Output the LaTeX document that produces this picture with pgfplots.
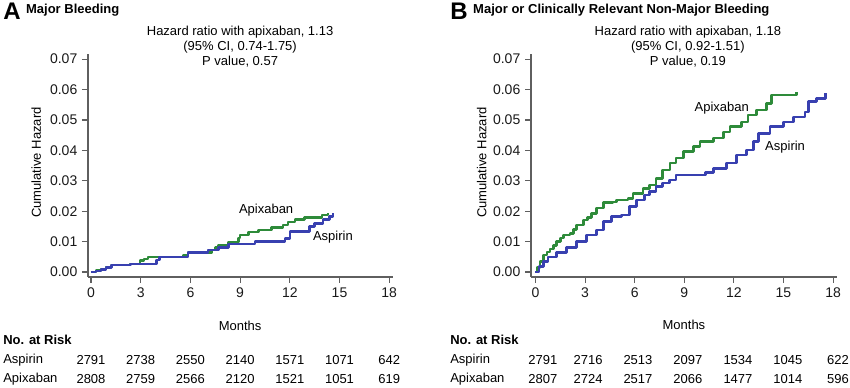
\documentclass[border=0pt]{standalone}
\usepackage{pgfplots}
\pgfplotsset{compat=1.18}
\usepackage{fontspec}
\setmainfont{Liberation Sans}
\definecolor{apx}{RGB}{46,139,58}
\definecolor{asp}{RGB}{56,64,176}
\definecolor{axgray}{RGB}{95,95,95}
\newcommand{\tf}{\fontsize{9.75}{11}\selectfont}
\pgfplotsset{kmstyle/.style={
  scale only axis, height=167.25pt,
  axis lines*=left, axis line style={axgray, line width=0.8pt},
  tick style={axgray, line width=0.8pt}, tick align=outside, major tick length=4.5pt,
  ymin=-0.00164, ymax=0.0717,
  ytick={0,0.01,0.02,0.03,0.04,0.05,0.06,0.07},
  scaled y ticks=false,
  yticklabel style={/pgf/number format/.cd, fixed, fixed zerofill, precision=2},
  xtick={0,3,6,9,12,15,18},
  /pgf/number format/assume math mode=true,
  ticklabel style={font=\fontsize{10.5}{12}\selectfont, text=black!90},
  clip=false,
  every axis plot/.append style={const plot, line width=1.9pt, line join=round},
}}
\begin{document}
\begin{tikzpicture}
\useasboundingbox (0,0) rectangle (637.5pt,291pt);
% ---------------- Panel A ----------------
\begin{axis}[kmstyle, at={(66pt,83.25pt)}, anchor=south west, width=228.9pt,
  xmin=-0.18, xmax=18.24]
\addplot[apx] coordinates {(0,0) (0.3,0.0005) (0.6,0.001) (0.9,0.0016) (1.25,0.0023) (2.35,0.0026) (2.95,0.0037) (3.2,0.0043) (3.45,0.005) (5.55,0.0054) (5.85,0.0064) (7.3,0.0072) (7.5,0.008) (7.7,0.0089) (8.3,0.0099) (8.9,0.0112) (9.0,0.0122) (9.5,0.0131) (10.1,0.0138) (10.9,0.0146) (11.6,0.0155) (11.9,0.0165) (12.3,0.0173) (12.9,0.018) (13.95,0.0188) (14.3,0.0193)};
\addplot[asp] coordinates {(0,0) (0.3,0.0004) (0.6,0.0009) (0.9,0.0015) (1.25,0.0023) (2.4,0.0027) (3.95,0.0039) (4.15,0.005) (5.85,0.0064) (7.05,0.0072) (7.7,0.0081) (8.3,0.0092) (9.9,0.01) (11.7,0.011) (12.0,0.0133) (13.2,0.0149) (13.5,0.016) (14.0,0.0173) (14.4,0.0182) (14.6,0.0193)};
\node[font=\tf] at (axis cs:10.57,0.0204) {Apixaban};
\node[font=\tf] at (axis cs:14.6,0.0115) {Aspirin};
\node[font=\tf] at (axis cs:9,0.0789) {Hazard ratio with apixaban, 1.13};
\node[font=\tf] at (axis cs:9,0.0740) {(95\% CI, 0.74-1.75)};
\node[font=\tf] at (axis cs:9,0.0691) {P value, 0.57};
\node[font=\fontsize{18}{20}\bfseries, anchor=base west, inner sep=0pt] at (axis cs:-5.31,0.0829) {A};
\node[font=\tf\bfseries, anchor=base west, inner sep=0pt] at (axis cs:-3.93,0.0849) {Major Bleeding};
\node[font=\tf, rotate=90] at (axis cs:-3.3,0.036) {Cumulative Hazard};
\node[font=\tf] at (axis cs:9,-0.01776) {Months};
\node[font=\tf\bfseries, anchor=west, inner sep=0pt] at (axis cs:-5.31,-0.02237) {No. at Risk};
\node[font=\tf, anchor=west, inner sep=0pt] at (axis cs:-5.31,-0.02895) {Aspirin};
\node[font=\tf, anchor=west, inner sep=0pt] at (axis cs:-5.31,-0.0352) {Apixaban};
\node[font=\tf] at (axis cs:0,-0.02895) {2791};
\node[font=\tf] at (axis cs:3,-0.02895) {2738};
\node[font=\tf] at (axis cs:6,-0.02895) {2550};
\node[font=\tf] at (axis cs:9,-0.02895) {2140};
\node[font=\tf] at (axis cs:12,-0.02895) {1571};
\node[font=\tf] at (axis cs:15,-0.02895) {1071};
\node[font=\tf] at (axis cs:18,-0.02895) {642};
\node[font=\tf] at (axis cs:0,-0.0352) {2808};
\node[font=\tf] at (axis cs:3,-0.0352) {2759};
\node[font=\tf] at (axis cs:6,-0.0352) {2566};
\node[font=\tf] at (axis cs:9,-0.0352) {2120};
\node[font=\tf] at (axis cs:12,-0.0352) {1521};
\node[font=\tf] at (axis cs:15,-0.0352) {1051};
\node[font=\tf] at (axis cs:18,-0.0352) {619};
\end{axis}
% ---------------- Panel B ----------------
\begin{axis}[kmstyle, at={(398.25pt,83.25pt)}, anchor=south west, width=229.5pt,
  xmin=-0.27, xmax=18.24]
\addplot[apx] coordinates {(0,0) (0.1,0.0015) (0.27,0.0034) (0.47,0.0056) (0.7,0.0066) (0.88,0.0075) (1.1,0.0088) (1.28,0.01) (1.5,0.0112) (1.68,0.0122) (2.09,0.0127) (2.3,0.014) (2.49,0.0155) (2.89,0.0171) (3.15,0.018) (3.4,0.0193) (3.7,0.021) (4.1,0.0229) (4.7,0.0231) (4.9,0.0237) (5.6,0.0242) (5.9,0.0259) (6.5,0.0275) (6.9,0.0286) (7.3,0.0308) (7.7,0.0336) (8.14,0.0358) (8.5,0.0375) (8.94,0.0396) (9.55,0.0412) (9.95,0.0429) (10.76,0.044) (11.36,0.0461) (11.77,0.0478) (12.47,0.0494) (12.87,0.0516) (13.38,0.0533) (13.99,0.0555) (14.29,0.0582) (15.8,0.0593)};
\addplot[asp] coordinates {(0,0) (0.2,0.0018) (0.47,0.0034) (0.77,0.005) (1.28,0.0064) (1.89,0.0081) (2.49,0.01) (3.1,0.0122) (3.7,0.0138) (4.1,0.0166) (4.6,0.0182) (5.2,0.0188) (5.7,0.0215) (6.1,0.0237) (6.6,0.0253) (6.9,0.0264) (7.3,0.0281) (7.7,0.0292) (8.1,0.0303) (8.5,0.0319) (10.3,0.0328) (10.76,0.0341) (11.57,0.0358) (12.17,0.0385) (12.78,0.0401) (13.18,0.0429) (13.48,0.0456) (14.19,0.0478) (15.0,0.0494) (15.6,0.051) (16.3,0.0527) (16.5,0.056) (17.0,0.0571) (17.55,0.0588)};
\node[font=\tf] at (axis cs:11.27,0.054) {Apixaban};
\node[font=\tf] at (axis cs:15.1,0.0411) {Aspirin};
\node[font=\tf] at (axis cs:9.22,0.0789) {Hazard ratio with apixaban, 1.18};
\node[font=\tf] at (axis cs:9.22,0.0740) {(95\% CI, 0.92-1.51)};
\node[font=\tf] at (axis cs:9.22,0.0691) {P value, 0.19};
\node[font=\fontsize{18}{20}\bfseries, anchor=base west, inner sep=0pt] at (axis cs:-5.17,0.0829) {B};
\node[font=\tf\bfseries, anchor=base west, inner sep=0pt] at (axis cs:-3.78,0.0849) {Major or Clinically Relevant Non-Major Bleeding};
\node[font=\tf, rotate=90] at (axis cs:-3.25,0.036) {Cumulative Hazard};
\node[font=\tf] at (axis cs:8.98,-0.01743) {Months};
\node[font=\tf\bfseries, anchor=west, inner sep=0pt] at (axis cs:-5.17,-0.02237) {No. at Risk};
\node[font=\tf, anchor=west, inner sep=0pt] at (axis cs:-5.17,-0.02895) {Aspirin};
\node[font=\tf, anchor=west, inner sep=0pt] at (axis cs:-5.17,-0.0352) {Apixaban};
\node[font=\tf] at (axis cs:0.45,-0.02895) {2791};
\node[font=\tf] at (axis cs:3.18,-0.02895) {2716};
\node[font=\tf] at (axis cs:6.2,-0.02895) {2513};
\node[font=\tf] at (axis cs:9.22,-0.02895) {2097};
\node[font=\tf] at (axis cs:12.25,-0.02895) {1534};
\node[font=\tf] at (axis cs:15.27,-0.02895) {1045};
\node[font=\tf] at (axis cs:18.3,-0.02895) {622};
\node[font=\tf] at (axis cs:0.45,-0.0352) {2807};
\node[font=\tf] at (axis cs:3.18,-0.0352) {2724};
\node[font=\tf] at (axis cs:6.2,-0.0352) {2517};
\node[font=\tf] at (axis cs:9.22,-0.0352) {2066};
\node[font=\tf] at (axis cs:12.25,-0.0352) {1477};
\node[font=\tf] at (axis cs:15.27,-0.0352) {1014};
\node[font=\tf] at (axis cs:18.3,-0.0352) {596};
\end{axis}
\end{tikzpicture}
\end{document}
